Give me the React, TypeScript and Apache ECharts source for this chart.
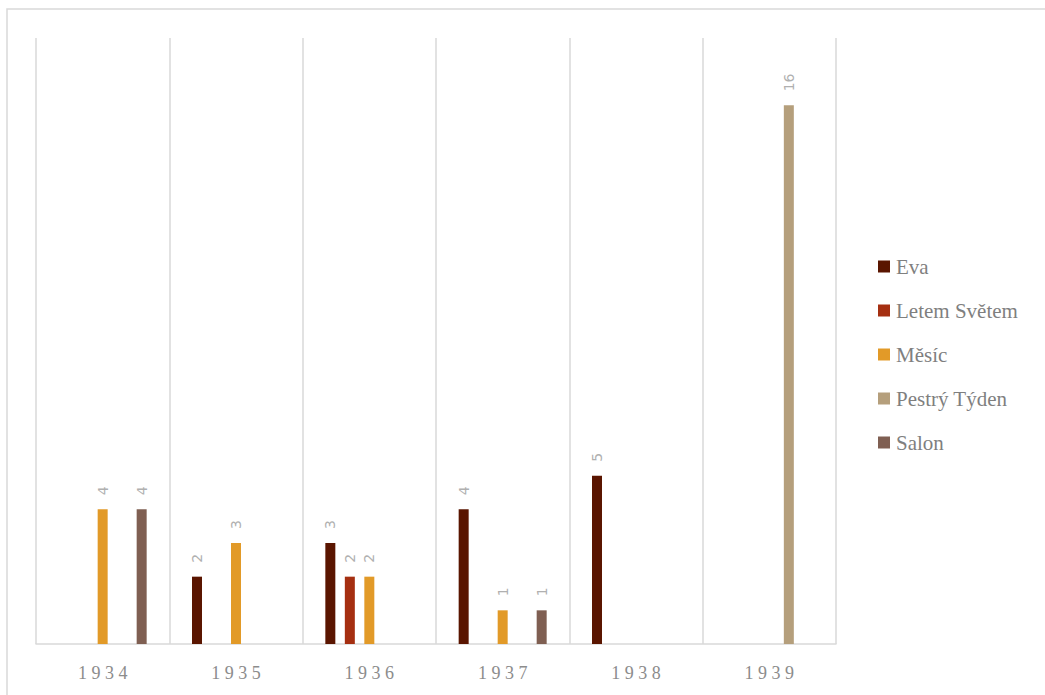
import React, { useEffect, useRef } from "react";
import * as echarts from "echarts";

const years = ["1934", "1935", "1936", "1937", "1938", "1939"];
const seriesNames = ["Eva", "Letem Světem", "Měsíc", "Pestrý Týden", "Salon"];
const eva = [null, 2, 3, 4, 5, null];
const letemSvetem = [null, null, 2, null, null, null];
const mesic = [4, 3, 2, 1, null, null];
const pestryTyden = [null, null, null, null, null, 16];
const salon = [4, null, null, 1, null, null];
const colors = ["#5a1500", "#a52f11", "#e29a28", "#b59f7c", "#7f5f52"];

const FONT = "'Liberation Serif', 'DejaVu Serif', serif";

export default function App() {
  const ref = useRef<HTMLDivElement>(null);
  useEffect(() => {
    if (!ref.current) return;
    const chart = echarts.init(ref.current, undefined, { renderer: "svg" });
    const values = [eva, letemSvetem, mesic, pestryTyden, salon];
    chart.setOption({
      animation: false,
      backgroundColor: "#ffffff",
      graphic: [
        {
          type: "rect",
          shape: { x: 7, y: 9, width: 1100, height: 800 },
          style: { fill: "none", stroke: "#d9d9d9", lineWidth: 1.5 },
          silent: true,
        },
      ],
      legend: {
        orient: "vertical",
        left: 873,
        top: 251,
        itemWidth: 12,
        itemHeight: 12,
        itemGap: 23,
        icon: "rect",
        textStyle: {
          fontFamily: FONT,
          fontSize: 21,
          color: "#7f7f7f",
          padding: [0, 0, 0, 1],
        },
        data: seriesNames,
      },
      grid: { left: 36, right: 209, top: 38, bottom: 51 },
      xAxis: {
        type: "category",
        data: years,
        axisLine: { lineStyle: { color: "#d9d9d9", width: 1.5 } },
        axisTick: { show: false },
        splitLine: { show: true, lineStyle: { color: "#d9d9d9", width: 1.5 } },
        axisLabel: {
          fontFamily: FONT,
          fontSize: 18,
          color: "#8c8c8c",
          margin: 20,
          formatter: (v: string) => v.split("").join(" "),
        },
      },
      yAxis: {
        type: "value",
        min: 0,
        max: 18,
        show: false,
        splitLine: { show: false },
      },
      series: seriesNames.map((name, i) => ({
        name,
        type: "bar",
        data: values[i],
        barWidth: 10,
        barGap: "95%",
        itemStyle: { color: colors[i] },
        label: {
          show: true,
          position: "top",
          rotate: 90,
          align: "left",
          verticalAlign: "middle",
          distance: 14,
          fontFamily: "'DejaVu Sans', sans-serif",
          fontSize: 14,
          color: "#b0b0b0",
        },
      })),
    });
    return () => chart.dispose();
  }, []);
  return (
    <div
      ref={ref}
      style={{ position: "fixed", left: 0, top: 0, width: 1045, height: 695 }}
    />
  );
}
